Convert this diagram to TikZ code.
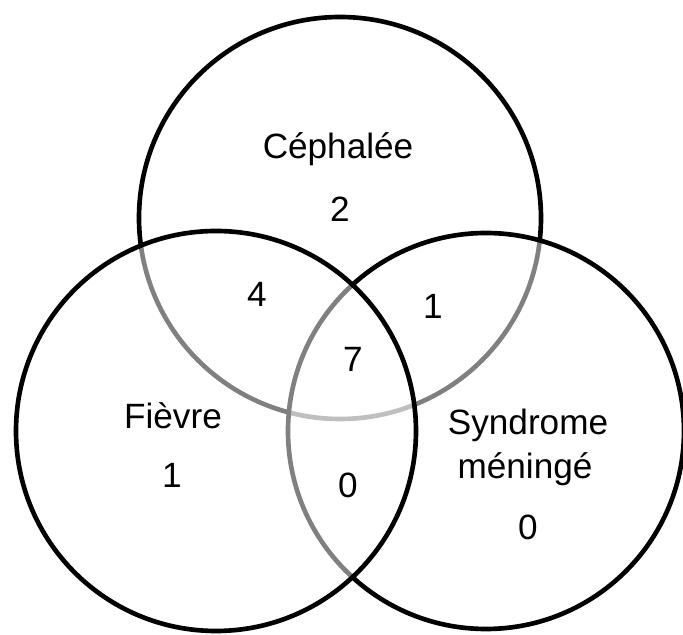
\documentclass[tikz,border=0pt]{standalone}
\usepackage{fontspec}
\setmainfont{Liberation Sans}
\usetikzlibrary{positioning}

\begin{document}
\begin{tikzpicture}[
    ring/.style={line width=3.3pt},
    veil/.style={fill=white, fill opacity=0.5},
    setlabel/.style={anchor=base, font=\fontsize{25}{30}\selectfont},
    count/.style={anchor=base, font=\fontsize{25}{30}\selectfont}]
    \useasboundingbox (0,0) rectangle (17.075,15.875);

    % Centres of the three sets
    \coordinate (cephC) at (8.5,10.425);
    \coordinate (fievC) at (5.4,5.1);
    \coordinate (syndC) at (12.15,5.1);

    % Circles: the later ones veil the lines below them
    \draw[ring] (cephC) circle (5.025);
    \draw[ring, veil] (syndC) circle (4.95);
    \draw[ring, veil] (fievC) circle (5.0);

    % Set names
    \node[setlabel] (ceph) at (8.45,11.9) {Céphalée};
    \node[setlabel] (fiev) at (4.325,5.15) {Fièvre};
    \node[setlabel] (synd) at (13.2,5.0) {Syndrome};
    \node[setlabel] (mening) at (13.125,3.9) {méningé};

    % Counts
    \node[count] (nC) at (8.5,10.325) {2};
    \node[count] (nF) at (4.3,3.675) {1};
    \node[count] (nS) at (13.2,2.375) {0};
    \node[count] (nCF) at (6.425,8.2) {4};
    \node[count] (nCS) at (10.825,7.9) {1};
    \node[count] (nFS) at (8.7,3.425) {0};
    \node[count] (nCFS) at (8.825,6.575) {7};
\end{tikzpicture}
\end{document}
